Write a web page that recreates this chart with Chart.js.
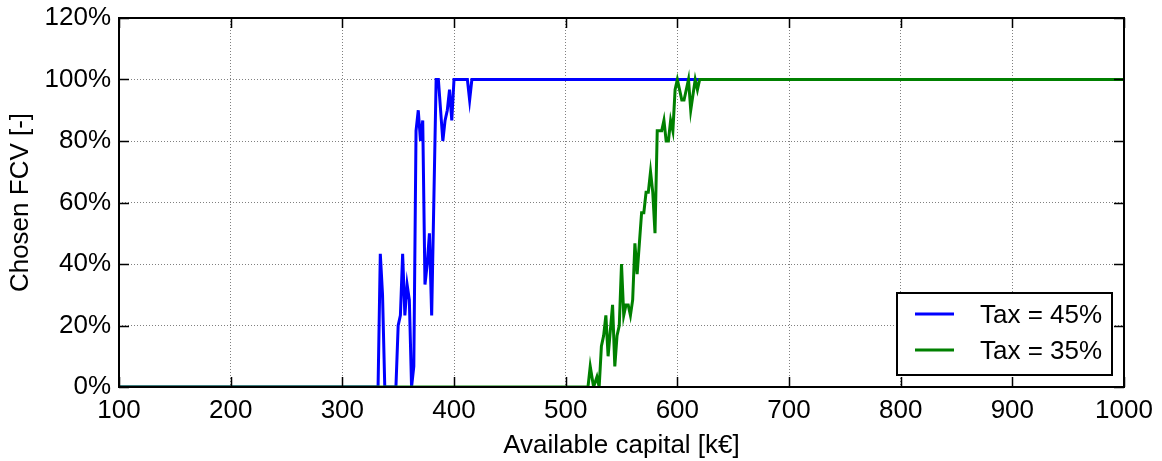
<!DOCTYPE html>
<html><head><meta charset="utf-8">
<script src="https://cdn.jsdelivr.net/npm/chart.js@4"></script>
<style>html,body{margin:0;padding:0;background:#fff}#wrap{width:1162px;height:461px}</style>
</head><body><div id="wrap"><canvas id="c" width="1162" height="461"></canvas></div>
<script>
// Data
const capital45 = [100,332,334,336,338,348,350,352,354,356,358,360,362,364,366,368,370,372,374,376,378,380,384,386,390,392,394,396,398,400,412,414,416,1000];
const fcv45     = [0,0,43.3,30,0,0,20,23.3,43.3,23.3,33.3,28.3,0,6.7,83.3,90,80,86.7,33.3,40,50,23.3,100,100,80,86.7,90,96.7,86.7,100,100,93.3,100,100];
const capital35 = [100,520,522,525,528,530,532,534,536,538,542,544,546,548,550,552,554,556,558,560,562,564,568,570,572,574,576,578,580,582,584,586,588,590,592,594,596,598,600,604,606,610,612,616,618,620,1000];
const fcv35     = [0,0,6.7,0,3.3,0,13.3,16.7,23.3,10,26.7,6.7,16.7,20,40,23.3,26.7,26.7,23.3,28.3,46.7,36.7,56.7,56.7,63.3,63.3,70,63.3,50,83.3,83.3,83.3,86.7,80,80,86.7,83.3,96.7,100,93.3,93.3,100,90,100,96.7,100,100];
const seriesLabels = ['Tax = 45%', 'Tax = 35%'];
const seriesColors = ['#0000ff', '#008000'];
const xRange = [100, 1000], xStep = 100;
const yRange = [0, 120], yStep = 20;
const xTitle = 'Available capital [k€]';
const yTitle = 'Chosen FCV [-]';

const FONT = "'Liberation Sans', Arial, sans-serif";
const FS = 26;
const toPts = (xs, ys) => xs.map((x, i) => ({x: x, y: ys[i]}));

const framePlugin = {
  id: 'frame',
  afterDatasetsDraw(chart) {
    const {ctx, chartArea: a, scales} = chart;
    ctx.save();
    ctx.strokeStyle = '#000';
    ctx.lineWidth = 1.5;
    ctx.beginPath();
    scales.x.ticks.forEach(t => {
      const p = Math.round(scales.x.getPixelForValue(t.value)) + 0.5;
      ctx.moveTo(p, a.bottom); ctx.lineTo(p, a.bottom - 10);
      ctx.moveTo(p, a.top); ctx.lineTo(p, a.top + 10);
    });
    scales.y.ticks.forEach(t => {
      const p = Math.round(scales.y.getPixelForValue(t.value)) + 0.5;
      ctx.moveTo(a.left, p); ctx.lineTo(a.left + 10, p);
      ctx.moveTo(a.right, p); ctx.lineTo(a.right - 10, p);
    });
    ctx.stroke();
    ctx.lineWidth = 2;
    ctx.strokeRect(a.left, a.top, a.right - a.left, a.bottom - a.top);
    // legend
    const w = 215, h = 82;
    const bx = a.right - 12 - w, by = a.bottom - 12 - h;
    ctx.fillStyle = '#fff';
    ctx.fillRect(bx, by, w, h);
    ctx.lineWidth = 2;
    ctx.strokeStyle = '#000';
    ctx.strokeRect(bx, by, w, h);
    ctx.font = FS + 'px ' + FONT;
    ctx.textBaseline = 'alphabetic';
    ctx.textAlign = 'left';
    seriesLabels.forEach((lab, i) => {
      const yy = by + 21 + i * 36;
      ctx.strokeStyle = seriesColors[i];
      ctx.lineWidth = 3;
      ctx.beginPath();
      ctx.moveTo(bx + 18, yy); ctx.lineTo(bx + 57, yy);
      ctx.stroke();
      ctx.fillStyle = '#000';
      ctx.fillText(lab, bx + 83, yy + 9);
    });
    ctx.restore();
  }
};

new Chart(document.getElementById('c'), {
  type: 'line',
  data: {
    datasets: [
      {label: seriesLabels[0], data: toPts(capital45, fcv45), borderColor: seriesColors[0], borderWidth: 3, pointRadius: 0, tension: 0, order: 2},
      {label: seriesLabels[1], data: toPts(capital35, fcv35), borderColor: seriesColors[1], borderWidth: 3, pointRadius: 0, tension: 0, order: 1}
    ]
  },
  options: {
    responsive: false,
    animation: false,
    devicePixelRatio: 1,
    layout: {padding: {top: 18, right: 38, left: 0, bottom: 0}},
    plugins: {legend: {display: false}, tooltip: {enabled: false}},
    scales: {
      x: {
        type: 'linear', min: xRange[0], max: xRange[1],
        ticks: {stepSize: xStep, color: '#000', font: {family: FONT, size: FS}, padding: 8, maxRotation: 0, callback: v => String(v)},
        grid: {color: '#808080', lineWidth: 1, drawTicks: false},
        border: {display: false, dash: [1, 2]},
        title: {display: true, text: xTitle, color: '#000', font: {family: FONT, size: FS}, padding: {top: 0, bottom: 0}},
        afterFit(s) { s.height = 74; s.paddingLeft = 0; s.paddingRight = 0; }
      },
      y: {
        type: 'linear', min: yRange[0], max: yRange[1],
        ticks: {stepSize: yStep, color: '#000', font: {family: FONT, size: FS}, padding: 8, callback: v => v + '%'},
        grid: {color: '#808080', lineWidth: 1, drawTicks: false},
        border: {display: false, dash: [1, 2]},
        title: {display: true, text: yTitle, color: '#000', font: {family: FONT, size: FS}, padding: {top: 5, bottom: 0}},
        afterFit(s) { s.width = 119; s.paddingTop = 0; s.paddingBottom = 0; }
      }
    }
  },
  plugins: [framePlugin]
});
</script>
</body></html>
